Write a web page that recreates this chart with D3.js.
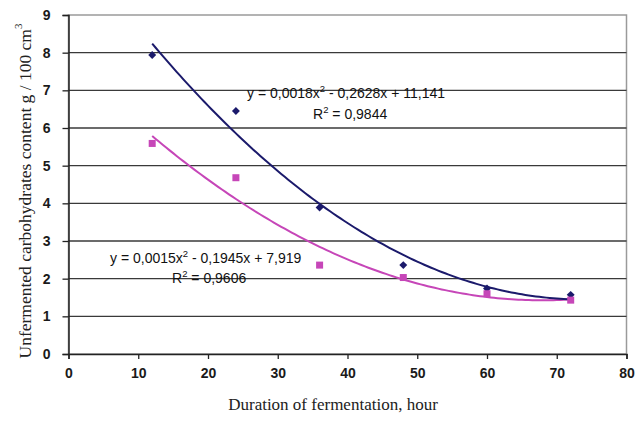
<!DOCTYPE html>
<html><head><meta charset="utf-8">
<script src="https://cdn.jsdelivr.net/npm/d3@7"></script>
<style>body{margin:0;background:#fff}svg{display:block}</style>
</head><body>
<svg id="c" width="644" height="422"></svg>
<script>
const hours = [12, 24, 36, 48, 60, 72];
const seriesA = [7.94, 6.45, 3.89, 2.36, 1.74, 1.57];
const seriesB = [5.59, 4.68, 2.36, 2.03, 1.60, 1.43];
const xTicks = [0, 10, 20, 30, 40, 50, 60, 70, 80];
const yTicks = [0, 1, 2, 3, 4, 5, 6, 7, 8, 9];
const eqA = ["y = 0,0018x", "2", " - 0,2628x + 11,141"];
const r2A = "0,9844";
const eqB = ["y = 0,0015x", "2", " - 0,1945x + 7,919"];
const r2B = "0,9606";

const svg = d3.select("#c");
const L = 68.5, R = 626.5, T = 15, B = 354;
const x = d3.scaleLinear().domain([0, 80]).range([L, R]);
const y = d3.scaleLinear().domain([0, 9]).range([B, T]);

svg.append("rect").attr("x", L).attr("y", T).attr("width", R - L).attr("height", B - T)
  .attr("fill", "none").attr("stroke", "#9a9a9a").attr("stroke-width", 1.5);

svg.append("g").selectAll("line").data(yTicks.filter(d => d > 0 && d < 9)).join("line")
  .attr("x1", L).attr("x2", R).attr("y1", d => y(d)).attr("y2", d => y(d))
  .attr("stroke", "#3a3a3a").attr("stroke-width", 1.3);

const fontTick = "'Liberation Sans', Arial, sans-serif";
const gy = svg.append("g").attr("transform", `translate(${L},0)`)
  .call(d3.axisLeft(y).tickValues(yTicks).tickSize(6).tickPadding(9).tickFormat(d3.format("d")));
const gx = svg.append("g").attr("transform", `translate(0,${B})`)
  .call(d3.axisBottom(x).tickValues(xTicks).tickSize(5).tickPadding(9).tickFormat(d3.format("d")));
[gx, gy].forEach(g => {
  g.select(".domain").attr("stroke", "#222").attr("stroke-width", 1.5);
  g.selectAll(".tick line").attr("stroke", "#222").attr("stroke-width", 1.3);
  g.selectAll(".tick text").attr("font-family", fontTick).attr("font-size", 14)
    .attr("fill", "#1a1a1a").attr("font-weight", "bold");
});
gy.selectAll(".tick text").attr("dx", "-3");

function quadFit(xs, ys) {
  const n = xs.length; let s = [0,0,0,0,0], t = [0,0,0];
  for (let i = 0; i < n; i++) {
    for (let k = 0; k < 5; k++) s[k] += Math.pow(xs[i], k);
    for (let k = 0; k < 3; k++) t[k] += ys[i] * Math.pow(xs[i], k);
  }
  const M = [[s[0], s[1], s[2], t[0]], [s[1], s[2], s[3], t[1]], [s[2], s[3], s[4], t[2]]];
  for (let i = 0; i < 3; i++) {
    for (let j = i + 1; j < 3; j++) {
      const f = M[j][i] / M[i][i];
      for (let k = i; k < 4; k++) M[j][k] -= f * M[i][k];
    }
  }
  const c = [0, 0, 0];
  for (let i = 2; i >= 0; i--) {
    let v = M[i][3];
    for (let k = i + 1; k < 3; k++) v -= M[i][k] * c[k];
    c[i] = v / M[i][i];
  }
  return xv => c[0] + c[1] * xv + c[2] * xv * xv;
}

const colA = "#1b1a6b", colB = "#c646b8";
const line = d3.line().x(d => x(d[0])).y(d => y(d[1]));
function trend(xs, ys, col) {
  const f = quadFit(xs, ys);
  const pts = d3.range(xs[0], xs[xs.length - 1] + 0.001, 0.5).map(v => [v, f(v)]);
  svg.append("path").attr("d", line(pts)).attr("fill", "none").attr("stroke", col).attr("stroke-width", 2);
}
trend(hours, seriesB, colB);
trend(hours, seriesA, colA);

svg.append("g").selectAll("path").data(hours.map((h, i) => [h, seriesA[i]])).join("path")
  .attr("d", d3.symbol(d3.symbolDiamond2, 40)())
  .attr("transform", d => `translate(${x(d[0])},${y(d[1])})`).attr("fill", colA);
svg.append("g").selectAll("rect").data(hours.map((h, i) => [h, seriesB[i]])).join("rect")
  .attr("x", d => x(d[0]) - 3.5).attr("y", d => y(d[1]) - 3.5).attr("width", 7).attr("height", 7)
  .attr("fill", colB);

function eq(parts, r2, x0, yb, xr, yr) {
  const t = svg.append("text").attr("x", x0).attr("y", yb)
    .attr("font-family", fontTick).attr("font-size", 14).attr("fill", "#111");
  t.append("tspan").text(parts[0]);
  t.append("tspan").attr("dy", -6).attr("font-size", 9.5).text(parts[1]);
  t.append("tspan").attr("dy", 6).text(parts[2]);
  const r = svg.append("text").attr("x", xr).attr("y", yr)
    .attr("font-family", fontTick).attr("font-size", 14).attr("fill", "#111");
  r.append("tspan").text("R");
  r.append("tspan").attr("dy", -6).attr("font-size", 9.5).text("2");
  r.append("tspan").attr("dy", 6).text(" = " + r2);
}
eq(eqA, r2A, 247, 98, 313, 119);
eq(eqB, r2B, 110, 263, 172, 283);

const serif = "'Liberation Serif', 'Times New Roman', serif";
svg.append("text").attr("x", 333).attr("y", 410).attr("text-anchor", "middle")
  .attr("font-family", serif).attr("font-size", 17).attr("fill", "#222")
  .text("Duration of fermentation, hour");
const yt = svg.append("text").attr("transform", `translate(31,191) rotate(-90)`)
  .attr("text-anchor", "middle").attr("font-family", serif).attr("font-size", 17.5).attr("fill", "#222");
yt.append("tspan").text("Unfermented carbohydrates content g / 100 cm");
yt.append("tspan").attr("dy", -9).attr("font-size", 11).text("3");
</script>
</body></html>
